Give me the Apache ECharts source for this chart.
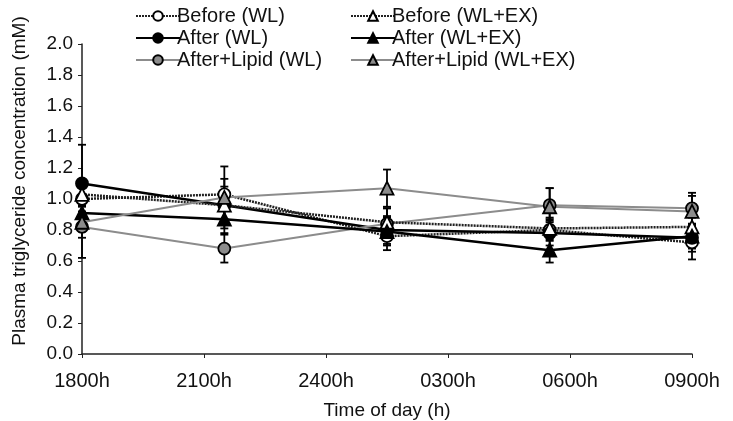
<!DOCTYPE html>
<html>
<head>
<meta charset="utf-8">
<script src="https://cdn.jsdelivr.net/npm/echarts@6/dist/echarts.min.js"></script>
<style>
  html, body { margin: 0; padding: 0; background: #fff; }
  #chart { width: 733px; height: 421px; }
</style>
</head>
<body>
<div id="chart"></div>
<script>
// hours after 1800h
const times = [0, 3.5, 7.5, 11.5, 15];
const tickLabels = ['1800h', '2100h', '2400h', '0300h', '0600h', '0900h'];

const beforeWL = [1.00, 1.03, 0.76, 0.80, 0.72];
const beforeWLEX = [1.03, 0.96, 0.85, 0.81, 0.82];
const afterWL = [1.10, 0.96, 0.80, 0.78, 0.75];
const afterWLEX = [0.91, 0.87, 0.79, 0.67, 0.76];
const lipidWL = [0.82, 0.68, 0.84, 0.96, 0.94];
const lipidWLEX = [0.85, 1.01, 1.07, 0.95, 0.92];

// error bars (+/-)
const beforeWLErr = [0.08, 0.10, 0.09, 0.07, 0.11];
const beforeWLEXErr = [0.07, 0.09, 0.09, 0.07, 0.06];
const afterWLErr = [0.25, 0.12, 0.09, 0.08, 0.09];
const afterWLEXErr = [0.12, 0.09, 0.09, 0.08, 0.08];
const lipidWLErr = [0.20, 0.09, 0.10, 0.11, 0.10];
const lipidWLEXErr = [0.10, 0.20, 0.12, 0.12, 0.10];

const FONT = 'Liberation Sans, Arial, sans-serif';
const GREY = '#8c8c8c';

const lines = [
  { name: 'Before (WL)', vals: beforeWL, err: beforeWLErr, symbol: 'circle', fill: '#fff', line: '#222', type: [2, 1], width: 2.5 },
  { name: 'After (WL)', vals: afterWL, err: afterWLErr, symbol: 'circle', fill: '#000', line: '#000', type: 'solid', width: 2.5 },
  { name: 'After+Lipid (WL)', vals: lipidWL, err: lipidWLErr, symbol: 'circle', fill: GREY, line: GREY, type: 'solid', width: 2 },
  { name: 'Before (WL+EX)', vals: beforeWLEX, err: beforeWLEXErr, symbol: 'triangle', fill: '#fff', line: '#222', type: [2, 1], width: 2.5 },
  { name: 'After (WL+EX)', vals: afterWLEX, err: afterWLEXErr, symbol: 'triangle', fill: '#000', line: '#000', type: 'solid', width: 2.5 },
  { name: 'After+Lipid (WL+EX)', vals: lipidWLEX, err: lipidWLEXErr, symbol: 'triangle', fill: GREY, line: GREY, type: 'solid', width: 2 }
];

const series = [];
lines.forEach((s) => {
  series.push({
    type: 'custom',
    silent: true,
    z: 1,
    data: times.map((t, i) => [t, s.vals[i] - s.err[i], s.vals[i] + s.err[i]]),
    renderItem: (params, api) => {
      const lo = api.coord([api.value(0), api.value(1)]);
      const hi = api.coord([api.value(0), api.value(2)]);
      const w = 4;
      const style = { stroke: '#000', lineWidth: 1.8 };
      return {
        type: 'group',
        children: [
          { type: 'line', shape: { x1: lo[0], y1: lo[1], x2: hi[0], y2: hi[1] }, style },
          { type: 'line', shape: { x1: lo[0] - w, y1: lo[1], x2: lo[0] + w, y2: lo[1] }, style },
          { type: 'line', shape: { x1: hi[0] - w, y1: hi[1], x2: hi[0] + w, y2: hi[1] }, style }
        ]
      };
    }
  });
  series.push({
    name: s.name,
    type: 'line',
    z: 3,
    data: times.map((t, i) => [t, s.vals[i]]),
    symbol: s.symbol,
    symbolSize: s.symbol === 'circle' ? 12 : 13,
    lineStyle: { color: s.line, width: s.width, type: s.type },
    itemStyle: { color: s.fill, borderColor: '#000', borderWidth: 1.8 }
  });
});

const legendBase = {
  orient: 'vertical',
  top: 1,
  itemWidth: 44,
  itemHeight: 12,
  itemGap: 2,
  textStyle: { fontFamily: FONT, fontSize: 20, color: '#111', padding: [0, 0, 0, -8] }
};

const chart = echarts.init(document.getElementById('chart'));
chart.setOption({
  animation: false,
  backgroundColor: '#fff',
  legend: [
    Object.assign({}, legendBase, { left: 130, data: lines.slice(0, 3).map((l) => l.name) }),
    Object.assign({}, legendBase, { left: 345, data: lines.slice(3).map((l) => l.name) })
  ],
  grid: { left: 82, right: 41, top: 44, bottom: 67, outerBoundsMode: 'none' },
  xAxis: {
    type: 'value',
    min: 0,
    max: 15,
    interval: 3,
    name: 'Time of day (h)',
    nameLocation: 'middle',
    nameGap: 47,
    nameTextStyle: { fontFamily: FONT, fontSize: 19, color: '#111' },
    axisLine: { lineStyle: { color: '#222', width: 1.5 } },
    axisTick: { length: 4, lineStyle: { color: '#222' } },
    axisLabel: {
      margin: 17,
      fontFamily: FONT,
      fontSize: 20,
      color: '#111',
      formatter: (v) => tickLabels[Math.round(v / 3)]
    },
    splitLine: { show: false }
  },
  yAxis: {
    type: 'value',
    min: 0,
    max: 2,
    interval: 0.2,
    name: 'Plasma triglyceride concentration (mM)',
    nameLocation: 'middle',
    nameGap: 53,
    nameTextStyle: { fontFamily: FONT, fontSize: 19, color: '#111', padding: [0, 0, 0, 36] },
    axisLine: { show: true, lineStyle: { color: '#222', width: 1.5 } },
    axisTick: { show: true, length: 4, lineStyle: { color: '#222' } },
    axisLabel: {
      margin: 9,
      fontFamily: FONT,
      fontSize: 19,
      color: '#111',
      formatter: (v) => v.toFixed(1)
    },
    splitLine: { show: false }
  },
  series
});
</script>
</body>
</html>
